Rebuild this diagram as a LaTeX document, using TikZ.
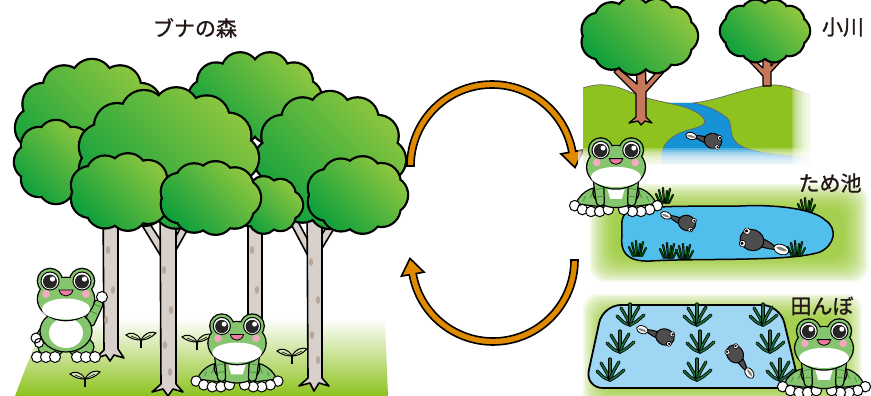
\documentclass[tikz,border=0pt]{standalone}
\usepackage{fontspec}
\newfontfamily\jpfont{Noto Sans CJK JP}[FakeBold=1.2]
\usetikzlibrary{calc}
\definecolor{leafL}{HTML}{8DC63F}
\definecolor{leafD}{HTML}{0FA03C}
\definecolor{grassG}{HTML}{8DC21F}
\definecolor{trunkC}{HTML}{D8D0CA}
\definecolor{trunkS}{HTML}{A8988C}
\definecolor{frogG}{HTML}{84C56E}
\definecolor{frogD}{HTML}{4E9B3C}
\definecolor{pinkM}{HTML}{EE7BA2}
\definecolor{pinkC}{HTML}{F5A9C0}
\definecolor{arrowO}{HTML}{E08A00}
\definecolor{pondB}{HTML}{50BFEC}
\definecolor{paddyB}{HTML}{9FD6F3}
\definecolor{riverB}{HTML}{1593D6}
\definecolor{tadG}{HTML}{4D4D4D}
\definecolor{riceG}{HTML}{1F6A3A}
\definecolor{brownT}{HTML}{C7785A}
\definecolor{sproutG}{HTML}{D3E8B0}
\definecolor{inkC}{HTML}{231815}

\tikzset{
  leafshade/.style={top color=leafL, bottom color=leafD, shading angle=-45},
  trunk/.style={fill=trunkC, draw=black, line width=1.6pt, line join=round},
  trunkbrown/.style={fill=brownT, draw=black, line width=1.3pt, line join=round},
  arrowshape/.style={fill=arrowO, draw=black, line width=1.6pt, line join=miter},
  place/.style={font=\jpfont\fontsize{21}{21}\selectfont, text=inkC},
  ol/.style={draw=black, line width=1.2pt, line join=round},
}

% scalloped canopy: centre, radii of the ring, bump radius, bump count
\newcommand\canopy[6]{%
  \begin{scope}[shift={(#1,#2)}]
    \draw[line width=4.5pt] (0,0) ellipse[x radius=#3,y radius=#4]
      foreach \k in {1,...,#6}{ ({\k*360/#6}:#3 and #4) circle[radius=#5] };
    \shade[leafshade] (0,0) ellipse[x radius=#3,y radius=#4]
      foreach \k in {1,...,#6}{ ({\k*360/#6}:#3 and #4) circle[radius=#5] };
  \end{scope}}

% frog head, origin between the eyes
\newcommand\froghead[2]{% rx ry
  \draw[line width=2.6pt] (0,18) ellipse[x radius=#1,y radius=#2]
     (-16,0) circle[radius=12] (16,0) circle[radius=12];
  \fill[frogG] (0,18) ellipse[x radius=#1,y radius=#2]
     (-16,0) circle[radius=12] (16,0) circle[radius=12];
  \fill[white] (0,28) ellipse[x radius={#1-4},y radius=10.5];
  \foreach \m in {-1,1}{
    \draw[fill=white, line width=1pt] (\m*16,0) circle[radius=9];
    \fill[black!85] (\m*16,0.5) circle[radius=7];
    \fill[white] (\m*16+2.5,-2) circle[radius=2.6];
    \fill[pinkC] (\m*20,13) circle[radius=4];
  }
  \draw[fill=pinkM, line width=0.8pt] (-7,9) .. controls (-5,17) and (5,17) .. (7,9) -- cycle;
}

% sitting frog
\newcommand\frogsit[3]{%
  \begin{scope}[shift={(#1,#2)},scale=#3]
    \foreach \m in {-1,1}{
      \begin{scope}[xscale=\m]
        \draw[ol, fill=frogG] (6,42) .. controls (20,34) and (36,42) .. (42,56) -- (8,60) -- cycle;
        \draw[frogD, line width=1pt] (24,44) -- (27,50) (32,48) -- (34,53);
        \foreach \tx/\ty in {43/58, 35/62, 26/64, 17/64, 8/62}{
          \draw[fill=white, line width=1pt] (\tx,\ty) circle[radius=5.5];}
      \end{scope}}
    \draw[ol, fill=frogG] (0,44) ellipse[x radius=24, y radius=16];
    \fill[white] (-11,34) -- (11,34) -- (6,51) -- (-6,51) -- cycle;
    \foreach \m in {-1,1}{
      \begin{scope}[xscale=\m]
        \draw[ol, fill=frogG, rounded corners=3] (13,30) -- (24,30) -- (20,58) -- (12,58) -- cycle;
        \draw[frogD, line width=1pt] (14,40) -- (21,41) (13,48) -- (20,49);
      \end{scope}}
    \froghead{30}{22}
  \end{scope}}

% tadpole: x y angle scale
\newcommand\tadpole[4]{%
  \begin{scope}[shift={(#1,#2)},rotate=#3,scale=#4]
    \draw[line width=1pt, fill=tadG] (-6,-3) .. controls (-14,-3) and (-20,-2) .. (-26,0)
       .. controls (-20,3) and (-14,4) .. (-6,5) -- cycle;
    \draw[line width=0.8pt, fill=white] (-28,1) ellipse[x radius=7,y radius=4.5];
    \fill[gray] (-28,1.5) ellipse[x radius=5, y radius=1.4];
    \draw[line width=1pt, fill=tadG] (0,0) ellipse[x radius=11,y radius=9.5];
    \foreach \s in {-1,1}{
      \draw[fill=white, line width=0.6pt] (7,\s*6) circle[radius=3];
      \fill[black] (7.5,\s*6) circle[radius=1.6];}
  \end{scope}}

% seedling with two leaves
\newcommand\sprout[2]{%
  \begin{scope}[shift={(#1,#2)}]
    \draw[line width=1.6pt] (0,0) -- (0,-9);
    \draw[fill=sproutG, line width=1pt] (0,-8) .. controls (-4,-16) and (-12,-16) .. (-15,-13) .. controls (-10,-9) and (-5,-8) .. (0,-8) -- cycle;
    \draw[fill=sproutG, line width=1pt] (0,-8) .. controls (4,-16) and (12,-17) .. (15,-15) .. controls (10,-10) and (5,-8) .. (0,-8) -- cycle;
    \draw[line width=0.6pt] (0,-8) -- (-10,-12) (0,-8) -- (10,-13);
  \end{scope}}

% tuft of pond grass
\newcommand\tuft[2]{%
  \begin{scope}[shift={(#1,#2)}]
    \foreach \bx/\dx/\dy in {-4/-8/-9,-2/-5/-13,0/-1/-15,2/3/-12,3/6/-14,5/9/-8}{
      \draw[line width=2.2pt, line cap=round] (\bx,0) -- (\dx,\dy);
      \draw[line width=0.9pt, green!35!black, line cap=round] (\bx,0) -- (\dx,\dy);}
  \end{scope}}

% rice plant, base point
\newcommand\riceplant[2]{%
  \begin{scope}[shift={(#1,#2)}]
    \foreach \a/\b/\c/\d in {-13/-9/-6/-2, -9/-17/-3/-7, 0/-21/0/-9, 9/-18/3/-8, 14/-10/6/-3}{
      \draw[line width=3.2pt, line cap=round] (0,0) .. controls (\c,\d) .. (\a,\b);
      \draw[line width=1.7pt, riceG, line cap=round] (0,0) .. controls (\c,\d) .. (\a,\b);}
  \end{scope}}

% soft green glow behind a scene
\newcommand\glowbox[4]{%
  \foreach \i in {0,...,11}{
    \fill[grassG, opacity=0.12, rounded corners=16] ({#1+\i*2.2},{#2+\i*2.2}) rectangle ({#3-\i*2.2},{#4-\i*2.2});}}

\begin{document}
\begin{tikzpicture}[x=1pt,y=-1pt]
\useasboundingbox (0,0) rectangle (871,396);

%================ beech forest ================
\shade[top color=white, middle color=grassG!85, bottom color=grassG] (50,320) .. controls (150,318) and (300,318) .. (385,322)
  -- (388,396) -- (15,396) .. controls (25,370) and (35,340) .. (50,320) -- cycle;

% trunks
\draw[trunk] (103,200) -- (104,350) -- (96,358) -- (106,355) -- (110,361) -- (114,355) -- (124,358) -- (118,349) -- (118,200) -- cycle;
\draw[trunk] (248,200) -- (248,352) -- (262,352) -- (262,200) -- cycle;
\draw[trunk] (162,258) -- (140,222) -- (146,218) -- (163,244) -- cycle;
\draw[trunk] (175,252) -- (194,218) -- (188,214) -- (175,238) -- cycle;
\draw[trunk] (160,200) -- (161,384) -- (152,392) -- (163,389) -- (168,396) -- (173,389) -- (183,392) -- (176,384) -- (176,200) -- cycle;
\draw[trunk] (308,256) -- (290,222) -- (296,218) -- (309,242) -- cycle;
\draw[trunk] (321,250) -- (338,222) -- (332,218) -- (321,236) -- cycle;
\draw[trunk] (307,200) -- (308,378) -- (299,386) -- (310,383) -- (314,391) -- (319,383) -- (329,386) -- (322,378) -- (322,200) -- cycle;
\foreach \sx/\sy in {108/250,113/290,106/320,164/270,171/310,165/345,170/372,252/250,257/290,311/262,318/300,312/335,318/360}{
  \fill[trunkS, opacity=0.7] (\sx,\sy) ellipse[x radius=2.2,y radius=4];}

% canopies, back to front
\canopy{92}{128}{56}{48}{20}{12}
\canopy{255}{98}{48}{28}{18}{10}
\canopy{330}{160}{55}{48}{20}{12}
\canopy{268}{205}{20}{14}{14}{7}
\canopy{56}{162}{24}{24}{17}{8}
\canopy{168}{158}{68}{48}{22}{13}
\canopy{122}{192}{34}{20}{18}{9}
\canopy{210}{198}{32}{18}{18}{9}
\canopy{357}{195}{32}{20}{18}{9}

% seedlings
\sprout{141}{348}
\sprout{197}{350}
\sprout{292}{364}
\sprout{85}{387}

% standing frog by the first trunk
\begin{scope}[shift={(66,281)}]
  \foreach \m in {-1,1}{
    \draw[ol, fill=frogG] (\m*15,66) ellipse[x radius=13,y radius=10];}
  \foreach \tx in {-29,-20,-11,11,20,29}{
    \draw[fill=white, line width=1pt] (\tx,76) circle[radius=5.5];}
  \draw[ol, fill=frogG, rounded corners=3] (-18,36) -- (-30,54) -- (-23,58) -- (-12,42) -- cycle;
  \draw[frogD, line width=1pt] (-22,42) -- (-16,46) (-26,49) -- (-20,52);
  \draw[fill=white, line width=1pt] (-30,57) circle[radius=5] (-27,62) circle[radius=4.5];
  \draw[ol, fill=frogG, rounded corners=3] (18,40) -- (30,18) -- (38,22) -- (27,46) -- cycle;
  \draw[frogD, line width=1pt] (24,30) -- (31,33) (28,23) -- (35,26);
  \draw[fill=white, line width=1pt] (36,16) circle[radius=5.5];
  \draw[ol, fill=frogG] (0,50) ellipse[x radius=26, y radius=21];
  \fill[white] (0,52) ellipse[x radius=17, y radius=15];
  \froghead{28}{21}
\end{scope}

% sitting frog in the forest
\frogsit{237}{326}{0.95}

%================ connecting arrows ================
\coordinate (cu) at (492,166);
\coordinate (cd) at (493,260);
\path[arrowshape] ($(cu)+(180:85)$) arc[start angle=180, end angle=350, radius=85]
  -- ($(cu)+(350:93)$) -- ($(cu)+(350:81.5)+(80:16)$) -- ($(cu)+(350:70)$) -- ($(cu)+(350:78)$)
  arc[start angle=350, end angle=180, radius=78] -- cycle;
\path[arrowshape] ($(cd)+(0:85)$) arc[start angle=0, end angle=170, radius=85]
  -- ($(cd)+(170:93)$) -- ($(cd)+(170:81.5)+(260:16)$) -- ($(cd)+(170:70)$) -- ($(cd)+(170:78)$)
  arc[start angle=170, end angle=0, radius=78] -- cycle;

%================ stream ================
\fill[grassG] (583,88) .. controls (600,82) and (615,85) .. (630,92) .. controls (650,100) and (660,101) .. (668,103)
  -- (693,103) .. controls (720,100) and (745,88) .. (770,85) .. controls (785,84) and (795,90) .. (810,95)
  -- (810,164) -- (583,164) -- cycle;
\fill[riverB] (667,103) .. controls (685,106) and (700,112) .. (704,119)
  .. controls (707,125) and (700,127) .. (688,130) .. controls (668,136) and (658,148) .. (663,164)
  -- (810,164) -- (810,158) .. controls (790,156) and (760,154) .. (743,147)
  .. controls (725,138) and (735,125) .. (727,118) .. controls (718,110) and (705,105) .. (693,103) -- cycle;
\draw[line width=0.7pt, black!60] (667,103) .. controls (685,106) and (700,112) .. (704,119)
  .. controls (707,125) and (700,127) .. (688,130) .. controls (668,136) and (658,148) .. (663,164);
\draw[line width=0.7pt, black!60] (810,158) .. controls (790,156) and (760,154) .. (743,147)
  .. controls (725,138) and (735,125) .. (727,118) .. controls (718,110) and (705,105) .. (693,103);
\draw[line width=0.7pt, black!60] (583,88) .. controls (600,82) and (615,85) .. (630,92) .. controls (650,100) and (660,101) .. (668,103);
\draw[line width=0.7pt, black!60] (693,103) .. controls (720,100) and (745,88) .. (770,85) .. controls (785,84) and (795,90) .. (810,95);
\draw[trunkbrown] (636,58) -- (637,84) -- (618,68) -- (614,72) -- (636,94) -- (636,117) -- (629,123) -- (638,121)
  -- (641,125) -- (645,121) -- (652,123) -- (646,117) -- (646,92) -- (664,72) -- (660,68) -- (646,84) -- (645,58) -- cycle;
\canopy{639}{36}{42}{22}{16}{11}
\draw[trunkbrown] (763,48) -- (763,68) -- (752,58) -- (749,61) -- (763,76) -- (763,86) -- (771,86) -- (771,72)
  -- (782,60) -- (779,57) -- (771,66) -- (771,48) -- cycle;
\canopy{765}{31}{30}{17}{14}{10}
\tadpole{713}{141}{-15}{0.8}
\foreach \i in {0,...,7}{
  \fill[white, opacity=0.25] (578,{148+\i*2}) rectangle (814,166);
  \fill[white, opacity=0.25] ({792+\i*2.2},70) rectangle (814,166);}

%================ reservoir ================
\glowbox{590}{184}{868}{282}
\tuft{664}{203}
\tuft{806}{213}
\draw[fill=pondB, line width=1.5pt, line join=round] (628,212) .. controls (650,204) and (700,207) .. (740,206)
  .. controls (780,204) and (815,210) .. (825,220) .. controls (838,228) and (835,245) .. (820,252)
  .. controls (790,262) and (700,258) .. (650,261) .. controls (625,262) and (620,250) .. (622,235)
  .. controls (622,225) and (620,216) .. (628,212) -- cycle;
\tuft{637}{256}
\tuft{668}{258}
\tuft{684}{259}
\tuft{796}{256}
\tadpole{687}{223}{-22}{0.8}
\tadpole{752}{240}{160}{1.1}
\frogsit{616}{150}{0.96}

%================ paddy field ================
\glowbox{583}{294}{862}{410}
\draw[fill=paddyB, line width=1.8pt, rounded corners=18] (603,305) -- (780,305) -- (800,388) -- (585,388) -- cycle;
\foreach \px/\py in {630/325,697/325,763/325,620/352,700/352,770/352,610/380,697/380,780/380}{
  \riceplant{\px}{\py}}
\tadpole{665}{337}{-20}{0.85}
\tadpole{735}{354}{125}{0.85}
\frogsit{824}{331}{0.96}

%================ labels ================
\node[place] (forest) at (195,28) {ブナの森};
\node[place] (stream) at (843,27) {小川};
\node[place] (pond) at (830,183) {ため池};
\node[place] (paddy) at (822,306) {田んぼ};
\end{tikzpicture}
\end{document}
